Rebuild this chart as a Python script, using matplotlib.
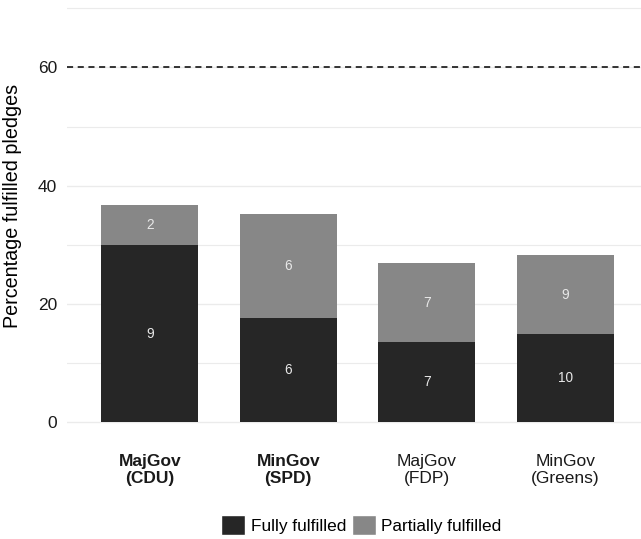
import matplotlib
matplotlib.use("Agg")
import matplotlib.pyplot as plt
from matplotlib.patches import Patch
import numpy as np

plt.rcParams['font.family'] = ['Liberation Sans', 'DejaVu Sans']

categories = ["MajGov\n(CDU)", "MinGov\n(SPD)", "MajGov\n(FDP)", "MinGov\n(Greens)"]
bold_labels = [True, True, False, False]
fully_pct = [30.0, 17.6, 13.5, 14.9]
partial_pct = [6.7, 17.7, 13.4, 13.4]
fully_n = [9, 6, 7, 10]
partial_n = [2, 6, 7, 9]
threshold = 60
yticks = [0, 20, 40, 60]

col_full = "#262626"
col_part = "#878787"

fig = plt.figure(figsize=(6.41, 5.39), dpi=100)
ax = fig.add_axes([0.1039, 0.1946, 0.8961, 0.8054])

x = np.arange(1, len(categories) + 1)
w = 0.7
ax.bar(x, fully_pct, width=w, color=col_full, zorder=3)
ax.bar(x, partial_pct, width=w, bottom=fully_pct, color=col_part, zorder=3)

for xi, f, p, fn, pn in zip(x, fully_pct, partial_pct, fully_n, partial_n):
    ax.text(xi, f / 2, str(fn), ha='center', va='center', color='#e8e8e8', fontsize=9.8, zorder=4)
    ax.text(xi, f + p / 2, str(pn), ha='center', va='center', color='#e8e8e8', fontsize=9.8, zorder=4)

ax.axhline(threshold, color='black', linestyle=(0, (4, 3)), linewidth=1.1, zorder=4)

ax.set_xlim(0.4, 4.547)
ax.set_ylim(-2, 71.4)
ax.set_yticks(yticks)
ax.set_yticks([10, 30, 50, 70], minor=True)
ax.yaxis.grid(True, which='major', color='#ebebeb', linewidth=1.0, zorder=0)
ax.yaxis.grid(True, which='minor', color='#ebebeb', linewidth=0.8, zorder=0)
ax.set_axisbelow(True)
for s in ax.spines.values():
    s.set_visible(False)
ax.tick_params(axis='both', which='both', length=0)
ax.tick_params(axis='y', labelsize=12.5, colors='#1a1a1a', pad=7)

ax.set_xticks(x)
ax.set_xticklabels(categories, fontsize=12.5, color='#1a1a1a', linespacing=1.17)
for lbl, b in zip(ax.get_xticklabels(), bold_labels):
    if b:
        lbl.set_fontweight('bold')
ax.tick_params(axis='x', pad=14)

fig.text(13 / 641, 1 - 206 / 539, "Percentage fulfilled pledges", rotation=90,
         ha='center', va='center', fontsize=14.2, color='black')

handles = [Patch(facecolor=col_full, edgecolor='white', label='Fully fulfilled'),
           Patch(facecolor=col_part, edgecolor='white', label='Partially fulfilled')]
fig.legend(handles=handles, loc='center', bbox_to_anchor=(0.5635, 14 / 539), ncol=2,
           frameon=False, fontsize=12.4, handlelength=1.42, handleheight=1.42,
           handletextpad=0.31, columnspacing=0.33, borderpad=0)

fig.savefig("out.png", dpi=100)
